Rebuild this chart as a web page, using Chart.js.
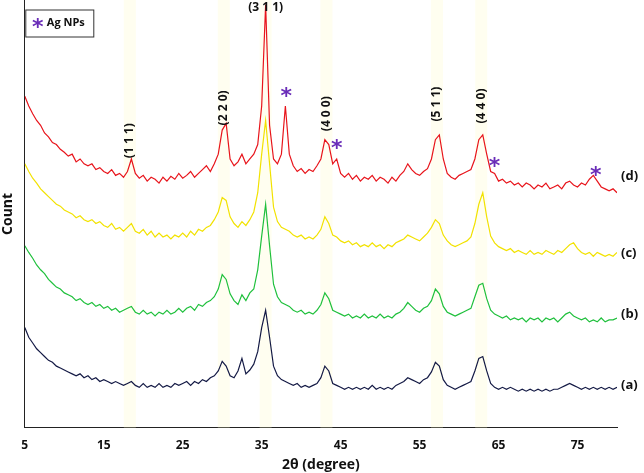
<!DOCTYPE html>
<html>
<head>
<meta charset="utf-8">
<script src="https://cdn.jsdelivr.net/npm/chart.js@4.4.1/dist/chart.umd.min.js"></script>
<style>
  html, body { margin: 0; padding: 0; background: #fff; }
  #wrap { width: 644px; height: 473px; position: relative; }
</style>
</head>
<body>
<div id="wrap"><canvas id="xrd"></canvas></div>
<script>
// 2-theta from 5 to 80 in 0.5 deg steps
const twoTheta = [];
for (let i = 0; i <= 150; i++) twoTheta.push(5 + i * 0.5);

// vertical position (axis reversed, no ticks shown)
const sampleD = [100,110,118,125,130,138,142,148,150,155,158,162,160,168,165,170,172,170,176,174,178,180,176,182,180,184,178,165,180,185,182,188,184,186,190,184,188,183,186,180,185,182,178,184,180,176,172,178,170,160,135,128,165,172,168,160,170,165,160,150,110,5,130,165,170,160,110,160,172,178,175,180,176,178,172,165,145,150,170,165,180,184,180,186,182,188,184,186,182,188,184,186,190,184,188,182,178,170,176,180,182,178,175,165,145,140,165,180,184,186,182,180,178,176,165,145,140,160,178,180,188,186,190,188,192,190,194,190,192,196,192,194,190,196,194,192,196,190,188,192,194,190,192,186,182,188,194,196,198,196,200];
const sampleC = [170,178,185,190,196,200,204,208,212,214,218,220,222,226,224,228,230,228,232,230,234,236,232,238,236,240,236,232,240,242,238,244,240,246,242,246,244,248,244,246,242,246,240,244,238,240,236,234,228,220,205,208,225,232,236,230,234,228,220,200,160,125,170,215,230,236,238,240,244,246,244,248,246,248,244,238,225,232,244,246,250,252,250,254,252,256,254,256,252,256,254,258,254,256,252,250,248,244,246,248,250,246,242,236,228,232,244,250,254,256,254,252,250,246,232,212,200,225,245,252,256,258,260,258,262,260,262,264,260,264,262,264,260,262,264,260,262,258,254,252,258,262,264,262,266,262,264,266,264,266,262];
const sampleB = [255,262,268,275,280,284,290,294,298,300,304,306,308,312,310,314,316,314,318,316,320,318,322,320,324,322,320,318,324,326,322,326,324,328,324,326,322,326,324,320,324,320,318,322,316,318,314,312,308,300,285,290,305,312,316,306,312,304,300,280,245,212,255,295,308,314,316,318,322,324,322,326,324,326,322,316,304,310,322,324,326,328,326,330,328,330,326,330,328,330,326,330,328,330,326,324,320,314,318,322,324,320,318,312,300,305,318,324,326,328,326,324,322,320,308,296,294,310,322,326,328,330,328,332,330,332,330,334,330,332,330,334,330,332,330,334,330,326,324,328,330,332,330,334,332,334,330,334,332,332,330];
const sampleA = [340,350,356,362,366,370,374,376,380,382,384,386,388,390,388,392,390,394,392,396,394,396,398,396,398,400,398,396,400,402,398,402,400,402,398,402,400,402,398,400,398,396,400,396,398,394,396,392,390,385,375,380,390,392,385,372,388,384,378,365,340,322,350,380,390,394,396,398,400,398,402,400,402,400,398,392,380,385,398,400,402,404,402,404,402,404,402,404,400,404,402,404,402,404,400,398,396,392,394,396,398,394,392,386,376,380,394,400,402,404,402,400,398,396,385,372,370,385,398,402,404,402,404,402,404,406,404,406,404,406,404,406,404,406,404,404,402,400,398,400,402,404,402,404,402,404,402,404,402,404,402];

const seriesNames = ['(d)', '(c)', '(b)', '(a)'];
const seriesColors = ['#e8141b', '#f2e200', '#1fc03c', '#141a45'];
const seriesValues = [sampleD, sampleC, sampleB, sampleA];
const seriesLabelY = [183, 263, 326, 400];

const xTicks = [5, 15, 25, 35, 45, 55, 65, 75];
const peakPos = [18.3, 30.2, 35.5, 43.2, 57.2, 62.8];
const peakNames = ['(1 1 1)', '(2 2 0)', '(3 1 1)', '(4 0 0)', '(5 1 1)', '(4 4 0)'];
const peakNameY = [146, 112, 8, 118, 108, 110];
const agPos = [38.1, 44.5, 64.5, 77.3];
const agY = [96, 150, 168, 178];

const overlay = {
  id: 'overlay',
  beforeDatasetsDraw(chart) {
    const { ctx, chartArea, scales: { x } } = chart;
    ctx.save();
    ctx.fillStyle = 'rgba(255,252,205,0.3)';
    peakPos.forEach(p => {
      const px = x.getPixelForValue(p);
      ctx.fillRect(px - 6, chartArea.top, 12, chartArea.bottom - chartArea.top);
    });
    ctx.restore();
  },
  afterDatasetsDraw(chart) {
    const { ctx, chartArea, scales: { x, y } } = chart;
    ctx.save();
    ctx.fillStyle = '#111';
    ctx.font = 'bold 12px "Open Sans", sans-serif';
    ctx.textAlign = 'center';
    ctx.textBaseline = 'middle';
    peakNames.forEach((t, i) => {
      const px = x.getPixelForValue(peakPos[i]);
      const py = y.getPixelForValue(peakNameY[i]);
      if (i === 2) {
        ctx.fillText(t, px, py);
      } else {
        ctx.save();
        ctx.translate(px, py);
        ctx.rotate(-Math.PI / 2);
        ctx.fillText(t, 0, 0);
        ctx.restore();
      }
    });
    ctx.fillStyle = '#6a2db8';
    ctx.font = 'bold 22px "DejaVu Sans", sans-serif';
    agPos.forEach((p, i) => {
      ctx.fillText('*', x.getPixelForValue(p), y.getPixelForValue(agY[i]) + 5);
    });
    // legend box
    ctx.strokeStyle = '#333';
    ctx.lineWidth = 1;
    ctx.fillStyle = '#fff';
    ctx.fillRect(chartArea.left + 1, 10, 68, 27);
    ctx.strokeRect(chartArea.left + 1, 10, 68, 27);
    ctx.fillStyle = '#6a2db8';
    ctx.fillText('*', chartArea.left + 13, 28);
    ctx.fillStyle = '#111';
    ctx.font = 'bold 11px "Open Sans", sans-serif';
    ctx.textAlign = 'left';
    ctx.fillText('Ag NPs', chartArea.left + 22, 23);
    // series labels
    ctx.font = 'bold 13px "Open Sans", sans-serif';
    seriesNames.forEach((n, i) => {
      ctx.fillText(n, chartArea.right + 4, y.getPixelForValue(seriesLabelY[i]));
    });
    ctx.restore();
  }
};

new Chart(document.getElementById('xrd'), {
  type: 'line',
  data: {
    datasets: seriesValues.map((vals, i) => ({
      label: seriesNames[i],
      data: vals.map((v, k) => ({ x: twoTheta[k], y: v })),
      borderColor: seriesColors[i],
      borderWidth: 1.2,
      pointRadius: 0,
      tension: 0
    }))
  },
  options: {
    responsive: true,
    maintainAspectRatio: false,
    animation: false,
    layout: { padding: { top: 0, right: 27, left: 0, bottom: 0 } },
    plugins: { legend: { display: false }, tooltip: { enabled: false } },
    scales: {
      x: {
        type: 'linear',
        min: 5,
        max: 80,
        afterBuildTicks: axis => { axis.ticks = xTicks.map(v => ({ value: v })); },
        grid: { display: false, drawTicks: true },
        border: { color: '#222', width: 1 },
        ticks: { color: '#111', font: { size: 12, weight: 'bold', family: 'Open Sans' }, autoSkip: false },
        title: { display: true, text: '2θ (degree)', color: '#111', font: { size: 14, weight: 'bold', family: 'Open Sans' }, padding: 0 }
      },
      y: {
        reverse: true,
        min: 0,
        max: 444,
        grid: { display: false },
        border: { color: '#222', width: 1 },
        ticks: { display: false },
        title: { display: true, text: 'Count', color: '#111', font: { size: 14, weight: 'bold', family: 'Open Sans' }, padding: 0 }
      }
    }
  },
  plugins: [overlay]
});
</script>
</body>
</html>
